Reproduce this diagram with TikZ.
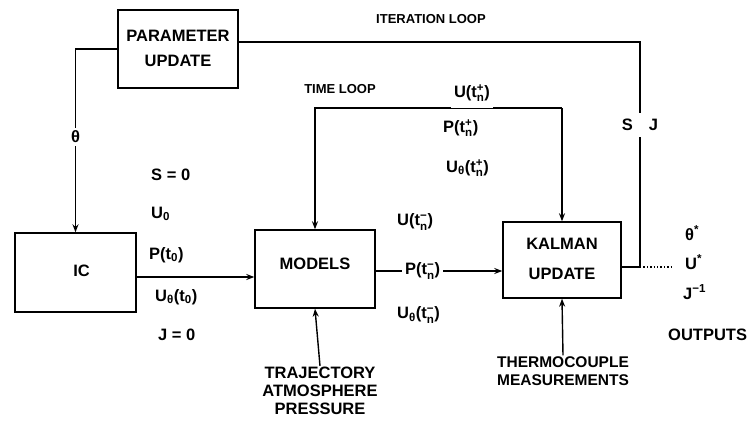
\documentclass[tikz,border=0pt]{standalone}
\usepackage{fontspec}
\usepackage{amsmath}
\setmainfont{Liberation Sans}
\usetikzlibrary{arrows.meta}
\newcommand\bigf{\fontsize{16.5}{18}\selectfont\bfseries}
\newcommand\thermf{\fontsize{15.5}{18}\selectfont\bfseries}
\newcommand\smallf{\fontsize{13}{15}\selectfont\bfseries}
\newcommand\tpl{$\text{t}^{\text{+}}_{\text{n}}$}
\newcommand\tmi{$\text{t}^{\text{−}}_{\text{n}}$}
\begin{document}
\begin{tikzpicture}[x=1pt,y=-1pt,
  box/.style={draw, line width=1.4pt, align=center, font=\bigf},
  lbl/.style={font=\bigf, inner sep=1pt},
  toplbl/.style={font=\smallf, inner sep=1pt},
  wire/.style={line width=1.4pt},
  arr/.style={wire, -{Stealth[length=8pt,width=6pt]}}]
\useasboundingbox (0,0) rectangle (753,442);

% boxes
\node[box, minimum width=120pt, minimum height=78pt] (param) at (178,49) {\raisebox{4pt}{PARAMETER}\\[5pt]\raisebox{2pt}{UPDATE}};
\node[box, minimum width=121pt, minimum height=79pt] (ic) at (75.5,272.5) {\hspace{12pt}\raisebox{4pt}{IC}};
\node[box, minimum width=120pt, minimum height=78pt] (models) at (315,269) {\raisebox{10pt}{MODELS}};
\node[box, minimum width=118pt, minimum height=76pt] (kalman) at (562,260) {\raisebox{4pt}{KALMAN}\\[10pt]\raisebox{2pt}{UPDATE}};

% inputs
\node[lbl, align=center, font=\bigf] (traj) at (320,391) {TRAJECTORY\\ATMOSPHERE\\PRESSURE};
\node[lbl, align=center, font=\thermf] (thermo) at (563,371) {THERMOCOUPLE\\MEASUREMENTS};
\draw[arr] (traj.north) -- (models.south);
\draw[arr] (thermo.north) -- (kalman.south);

% parameter update -> IC
\draw[arr] (param.west) -| node[lbl, fill=white, pos=0.74, inner sep=3pt] {θ} (ic.north);

% iteration loop
\coordinate (itc) at (640,42);
\coordinate (junc) at (640,267);
\coordinate (oute) at (672,267);
\node[toplbl] (itlbl) at (431,19) {ITERATION LOOP};
\draw[wire] (param.east |- itc) -- (itc) -- node[lbl, fill=white, pos=0.37, inner ysep=6pt] {S\hspace{16pt}J} (junc);
\draw[wire] (kalman.east |- junc) -- (junc);
\draw[wire, dotted] (junc) -- (oute);

% time loop
\coordinate (tlR) at (562,108);
\coordinate (tlL) at (315,108);
\node[toplbl] (tllbl) at (340,89) {TIME LOOP};
\draw[arr] (tlR) -- (tlL) -- (models.north);
\draw[arr] (tlR) -- (kalman.north);
\node[lbl, fill=white, inner sep=3pt, minimum height=30pt] (uplus) at (472,93) {U(\tpl)};
\node[lbl, anchor=west] (pplus) at (442,128) {P(\tpl)};
\node[lbl, anchor=west] (uthplus) at (445,168) {U$_{\text{θ}}$(\tpl)};

% IC -> models
\draw[arr] (ic.east |- 0,277) -- (models.west |- 0,277);
\node[lbl, anchor=west] (s0) at (150,175) {S = 0};
\node[lbl, anchor=west] (u0) at (150,214) {U$_{\text{0}}$};
\node[lbl, anchor=west] (pt0) at (148,255) {P(t$_{\text{0}}$)};
\node[lbl, anchor=west] (ut0) at (154,297) {U$_{\text{θ}}$(t$_{\text{0}}$)};
\node[lbl, anchor=west] (j0) at (157,335) {J = 0};

% models -> kalman
\draw[arr] (models.east |- 0,271) -- node[lbl, fill=white, pos=0.37, inner sep=3pt] {P(\tmi)} (kalman.west |- 0,271);
\node[lbl, anchor=west] (uminus) at (396,222) {U(\tmi)};
\node[lbl, anchor=west] (uthminus) at (396,315) {U$_{\text{θ}}$(\tmi)};

% outputs
\node[lbl, anchor=west] (thst) at (684,233) {θ$^{\text{*}}$};
\node[lbl, anchor=west] (ust) at (684,262) {U$^{\text{*}}$};
\node[lbl, anchor=west] (jinv) at (682,292) {J$^{\text{−1}}$};
\node[lbl, anchor=west] (outs) at (667,335) {OUTPUTS};
\end{tikzpicture}
\end{document}
